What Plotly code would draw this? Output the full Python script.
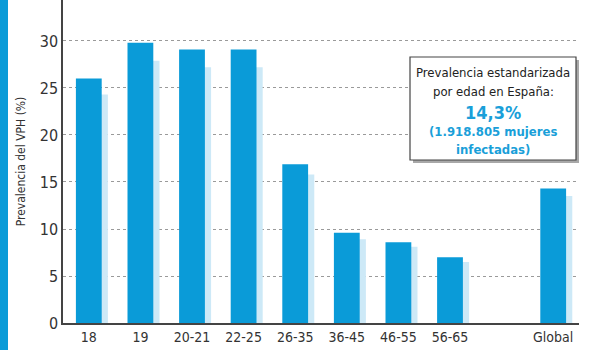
import plotly.graph_objects as go

categories = ["18", "19", "20-21", "22-25", "26-35", "36-45", "46-55", "56-65", "Global"]
slots = ["18", "19", "20-21", "22-25", "26-35", "36-45", "46-55", "56-65", " ", "Global"]
main_values = [26.0, 29.8, 29.1, 29.1, 16.9, 9.6, 8.6, 7.0, 14.3]
shadow_values = [24.3, 27.9, 27.2, 27.2, 15.8, 8.9, 8.1, 6.5, 13.5]
y_ticks = [0, 5, 10, 15, 20, 25, 30]
box_lines = ["Prevalencia estandarizada", "por edad en España:", "<b>14,3%</b>",
             "<b>(1.918.805 mujeres</b>", "<b>infectadas)</b>"]

BLUE = "#0a9bd8"
LIGHT = "#cde9f7"
TEXT_BLUE = "#1a9fd9"
FONT = "DejaVu Sans Condensed, Roboto, sans-serif"

PW, PH = 516.0, 323.0  # plot area in px

fig = go.Figure()
fig.add_trace(go.Bar(x=categories, y=shadow_values, marker_color=LIGHT,
                     marker_line_width=0, width=0.5, offset=-0.13, hoverinfo="skip"))
fig.add_trace(go.Bar(x=categories, y=main_values, marker_color=BLUE,
                     marker_line_width=0, width=0.5, offset=-0.25))

fig.update_layout(
    width=600, height=350,
    margin=dict(l=63, r=21, t=0, b=27),
    paper_bgcolor="white", plot_bgcolor="white",
    barmode="overlay", showlegend=False,
    font=dict(family=FONT, color="#333333", size=14),
    xaxis=dict(type="category", categoryorder="array", categoryarray=slots,
               range=[-0.5, len(slots) - 0.5], showgrid=False,
               showline=True, linecolor="#444444", linewidth=1.5,
               ticks="", tickfont=dict(size=14, color="#333333")),
    yaxis=dict(range=[0, 34.36], tickvals=y_ticks, showgrid=True,
               gridcolor="#9a9a9a", griddash="dot", gridwidth=1,
               showline=True, linecolor="#444444", linewidth=1.5,
               ticks="", zeroline=False, tickfont=dict(size=16, color="#333333"),
               title=dict(text="Prevalencia del VPH (%)", font=dict(size=12, color="#333333"),
                          standoff=12)),
)

# cut-off tick label at the top
fig.add_annotation(x=0, xref="paper", y=35, yref="y", text="35", showarrow=False,
                   xanchor="right", xshift=-4, yshift=-2, font=dict(size=16, color="#333333"))

# left blue strip
fig.add_shape(type="rect", xref="paper", yref="paper",
              x0=-63 / PW, x1=-55 / PW, y0=-0.2, y1=1.1,
              fillcolor=BLUE, line_width=0, layer="below")

# box shadow and box
fig.add_shape(type="rect", xref="paper", yref="paper",
              x0=(413 - 63) / PW, x1=(579 - 63) / PW,
              y0=1 - 163 / PH, y1=1 - 60 / PH,
              fillcolor="#a8a8a8", line_width=0, layer="above")
fig.add_shape(type="rect", xref="paper", yref="paper",
              x0=(410 - 63) / PW, x1=(576 - 63) / PW,
              y0=1 - 160 / PH, y1=1 - 57 / PH,
              fillcolor="white", line=dict(color="#444444", width=1.2), layer="above")

line_y = [73, 92, 112, 131, 149]
line_size = [13, 13, 18, 13, 13]
line_color = ["#222222", "#222222", TEXT_BLUE, TEXT_BLUE, TEXT_BLUE]
for txt, yy, sz, col in zip(box_lines, line_y, line_size, line_color):
    fig.add_annotation(x=(493 - 63) / PW, y=1 - yy / PH, xref="paper", yref="paper",
                       text=txt, showarrow=False, xanchor="center", yanchor="middle",
                       font=dict(size=sz, color=col, family=FONT))

fig.write_html("out.html")
